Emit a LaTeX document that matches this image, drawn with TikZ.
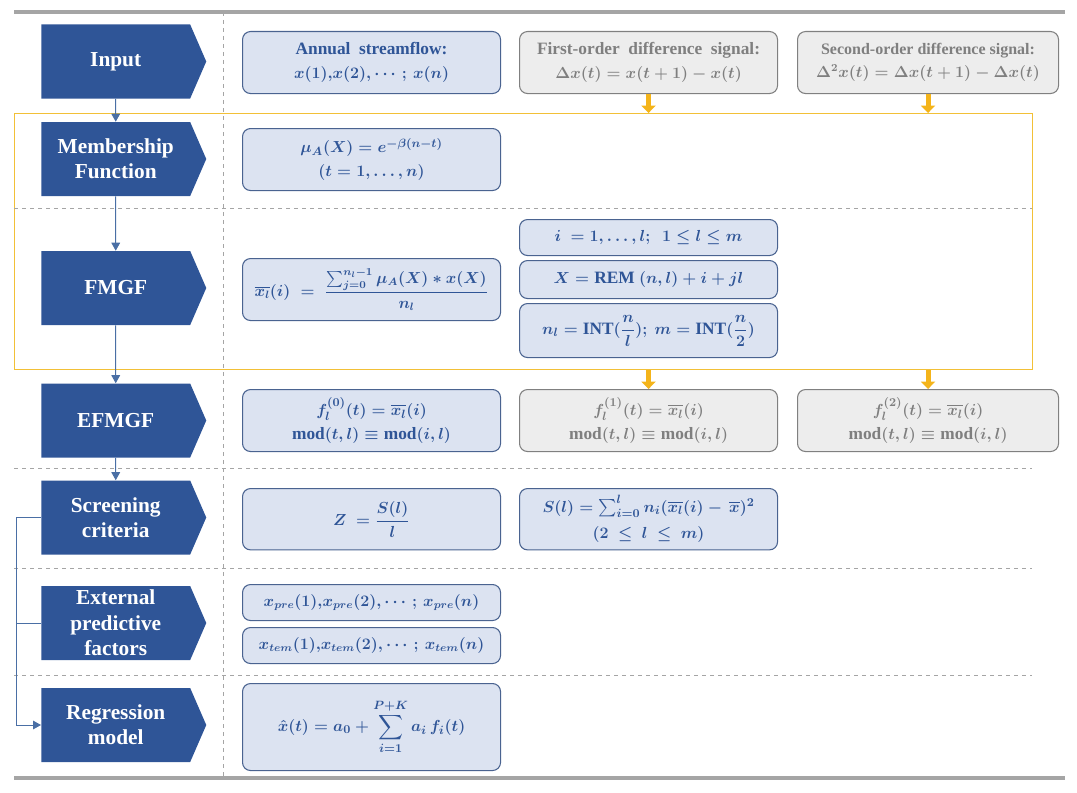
\documentclass[tikz,border=0pt]{standalone}
\usepackage{amsmath,amssymb}
\usepackage{fontspec}
\setmainfont{Liberation Serif}
\usetikzlibrary{positioning, arrows.meta, shapes.symbols}

\definecolor{stageblue}{HTML}{2F5597}
\definecolor{boxfill}{HTML}{DCE3F1}
\definecolor{boxline}{HTML}{4A6390}
\definecolor{grayfill}{HTML}{EDEDED}
\definecolor{grayline}{HTML}{808080}
\definecolor{graytext}{HTML}{7F7F7F}
\definecolor{ruleline}{HTML}{A5A5A5}
\definecolor{zoneline}{HTML}{F2C037}
\definecolor{feedyellow}{HTML}{F4B41A}
\definecolor{linkblue}{HTML}{4A6FA5}

\begin{document}
\begin{tikzpicture}[x=0.75pt, y=-0.75pt,
    stage/.style={shape=signal, signal to=east, signal pointer angle=133, fill=stageblue, text=white,
        font=\fontsize{16}{19}\selectfont\bfseries, align=center, minimum width=123.75pt,
        minimum height=55.5pt, inner sep=0pt, anchor=west},
    formbox/.style={rectangle, draw=boxline, fill=boxfill, rounded corners=6pt, text=stageblue, line width=0.8pt,
        font=\fontsize{13}{18}\selectfont\bfseries\boldmath, align=center, inner sep=0pt,
        anchor=north west, minimum width=193.5pt},
    graybox/.style={formbox, draw=grayline, fill=grayfill, text=graytext},
    smaller/.style={font=\fontsize{12}{17}\selectfont\bfseries\boldmath},
    link/.style={draw=linkblue, line width=0.75pt, -{Triangle[length=6pt, width=6.5pt]}},
    feed/.style={draw=feedyellow, line width=3.75pt, -{Triangle[length=5.5pt, width=10.5pt]}},
    rowline/.style={draw=ruleline, line width=0.6pt, dashed}]

    \useasboundingbox (0,0) rectangle (1077,792);

    % Frame
    \node (zone) [rectangle, draw=zoneline, line width=0.8pt, anchor=north west, inner sep=0pt,
        minimum width=763.5pt, minimum height=192pt] at (14,113) {};
    \draw[ruleline, line width=2.4pt] (14,12) -- (1065,12);
    \draw[ruleline, line width=2.4pt] (14,778) -- (1065,778);
    \draw[rowline] (223,12) -- (223,778);
    \draw[rowline] (14,208) -- (1032,208);
    \draw[rowline] (14,468) -- (1032,468);
    \draw[rowline] (14,568) -- (1032,568);
    \draw[rowline] (14,675) -- (1032,675);

    % Stages
    \node (input) [stage] at (41,61.5) {Input};
    \node (member) [stage] at (41,159) {Membership\\Function};
    \node (fmgf) [stage] at (41,288) {FMGF};
    \node (efmgf) [stage] at (41,420.5) {EFMGF};
    \node (screen) [stage] at (41,517.5) {Screening\\criteria};
    \node (extern) [stage] at (41,623) {External\\predictive\\factors};
    \node (regress) [stage] at (41,725) {Regression\\model};

    % Formula boxes
    \node (flow) [formbox, minimum height=46.5pt] at (242,31) {Annual\ \ streamflow:\\$x(1){,}x(2){,}\cdots;\,x(n)$};
    \node (first) [graybox, minimum height=46.5pt] at (519,31) {First-order\ \ difference\ \ signal:\\$\Delta x(t)=x(t+1)-x(t)$};
    \node (second) [graybox, smaller, minimum height=46.5pt, minimum width=195.75pt] at (797,31) {Second-order difference signal:\\$\Delta^2x(t)=\Delta x(t+1)-\Delta x(t)$};
    \node (mu) [formbox, minimum height=46.5pt] at (242,128) {$\mu_A(X)=e^{-\beta(n-t)}$\\$(t=1,\ldots,n)$};
    \node (mean) [formbox, smaller, minimum height=46.5pt] at (242,258) {$\displaystyle\overline{x_l}(i)\;=\;\frac{\sum_{j=0}^{n_l-1}\mu_A(X)*x(X)}{n_l}$};
    \node (range) [formbox, minimum height=27pt] at (519,219) {$i\ =1,\ldots,l;\ \ 1\le l\le m$};
    \node (index) [formbox, minimum height=28.5pt] at (519,260) {$X=\text{REM}\ (n,l)+i+jl$};
    \node (count) [formbox, minimum height=40.5pt] at (519,303) {$n_l=\text{INT}(\dfrac{n}{l});\ m=\text{INT}(\dfrac{n}{2})$};
    \node (f0) [formbox, minimum height=46.5pt] at (242,389) {$f_l^{(0)}(t)=\overline{x_l}(i)$\\mod$(t,l)\equiv{}$mod$(i,l)$};
    \node (f1) [graybox, minimum height=46.5pt] at (519,389) {$f_l^{(1)}(t)=\overline{x_l}(i)$\\mod$(t,l)\equiv{}$mod$(i,l)$};
    \node (f2) [graybox, minimum height=46.5pt, minimum width=195.75pt] at (797,389) {$f_l^{(2)}(t)=\overline{x_l}(i)$\\mod$(t,l)\equiv{}$mod$(i,l)$};
    \node (zcrit) [formbox, minimum height=46pt] at (242,488) {$\displaystyle Z\ =\frac{S(l)}{l}$};
    \node (scrit) [formbox, minimum height=46pt] at (519,488) {$S(l)=\sum\nolimits_{i=0}^{l}n_i(\overline{x_l}(i)-\,\overline{x})^{2}$\\[2pt]$(2\ \le\ l\ \le\ m)$};
    \node (xpre) [formbox, smaller, minimum height=27pt] at (242,584) {$x_{pre}(1){,}x_{pre}(2){,}\cdots;\,x_{pre}(n)$};
    \node (xtem) [formbox, smaller, minimum height=27pt] at (242,627) {$x_{tem}(1){,}x_{tem}(2){,}\cdots;\,x_{tem}(n)$};
    \node (model) [formbox, minimum height=65.25pt] at (242,683) {$\displaystyle\hat{x}(t)=a_0+\sum_{i=1}^{P+K}a_i\,f_i(t)$};

    % Arrows
    \draw[link] (input) -- (member);
    \draw[link] (member) -- (fmgf);
    \draw[link] (fmgf) -- (efmgf);
    \draw[link] (efmgf) -- (screen);
    \draw[link] (screen.west) -- ++(-25,0) |- (regress.west);
    \draw[linkblue, line width=0.75pt] (extern.west) -- ++(-25,0);
    \draw[feed] (first.south) -- (first.south |- zone.north);
    \draw[feed] (second.south) -- (second.south |- zone.north);
    \draw[feed] (f1.north |- zone.south) -- (f1.north);
    \draw[feed] (f2.north |- zone.south) -- (f2.north);
\end{tikzpicture}
\end{document}
